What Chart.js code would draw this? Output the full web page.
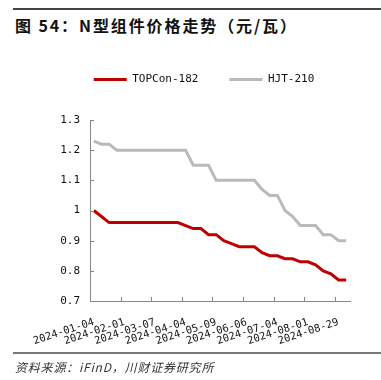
<!DOCTYPE html>
<html>
<head>
<meta charset="utf-8">
<script src="https://cdn.jsdelivr.net/npm/chart.js@4"></script>
<style>
  body { margin: 0; background: #fff; }
  #wrap { position: relative; width: 381px; height: 380px; overflow: hidden; }
  #chart { position: absolute; left: 0; top: 0; }
  .rule { position: absolute; left: 13px; right: 0; height: 2px; }
  #title { position: absolute; left: 15px; top: 13px; font: bold 16px "Noto Sans CJK SC", sans-serif; letter-spacing: 1.9px; color: #111; white-space: nowrap; }
  #source { position: absolute; left: 15px; top: 358px; font: italic 12px "Noto Sans CJK SC", sans-serif; letter-spacing: 0.8px; color: #333; white-space: nowrap; }
</style>
</head>
<body>
<div id="wrap">
  <div class="rule" style="top:8px;background:#444"></div>
  <div id="title">图 54：N型组件价格走势（元/瓦）</div>
  <canvas id="chart" width="381" height="380"></canvas>
  <div class="rule" style="top:352px;background:#777"></div>
  <div id="source">资料来源：iFinD，川财证券研究所</div>
</div>
<script>
// weekly dates (CNY and May Day weeks skipped)
const dates = [
  '2024-01-04', '2024-01-11', '2024-01-18', '2024-01-25', '2024-02-01', '2024-02-08', '2024-02-22', '2024-02-29',
  '2024-03-07', '2024-03-14', '2024-03-21', '2024-03-28', '2024-04-04', '2024-04-11', '2024-04-18', '2024-04-25',
  '2024-05-09', '2024-05-16', '2024-05-23', '2024-05-30', '2024-06-06', '2024-06-13', '2024-06-20', '2024-06-27',
  '2024-07-04', '2024-07-11', '2024-07-18', '2024-07-25', '2024-08-01', '2024-08-08', '2024-08-15', '2024-08-22',
  '2024-08-29', '2024-09-05'
];
const topcon = [
  1.00, 0.98, 0.96, 0.96, 0.96, 0.96, 0.96, 0.96,
  0.96, 0.96, 0.96, 0.96, 0.95, 0.94, 0.94, 0.92,
  0.92, 0.90, 0.89, 0.88, 0.88, 0.88, 0.86, 0.85,
  0.85, 0.84, 0.84, 0.83, 0.83, 0.82, 0.80, 0.79,
  0.77, 0.77
];
const hjt = [
  1.23, 1.22, 1.22, 1.20, 1.20, 1.20, 1.20, 1.20,
  1.20, 1.20, 1.20, 1.20, 1.20, 1.15, 1.15, 1.15,
  1.10, 1.10, 1.10, 1.10, 1.10, 1.10, 1.07, 1.05,
  1.05, 1.00, 0.98, 0.95, 0.95, 0.95, 0.92, 0.92,
  0.90, 0.90
];
const yTicks = [0.7, 0.8, 0.9, 1.0, 1.1, 1.2, 1.3];

const axisColor = '#888';
const monoFont = '"DejaVu Sans Mono", monospace';

// small tick marks pointing into the plot, like the original
const innerTicks = {
  id: 'innerTicks',
  beforeInit(chart) {
    // leave extra room under the legend
    const legend = chart.legend;
    const fit = legend.fit;
    legend.fit = function () { fit.call(this); this.height += 25; };
  },
  afterDraw(chart) {
    const { ctx, chartArea, scales } = chart;
    const x = scales.x, y = scales.y;
    ctx.save();
    ctx.strokeStyle = axisColor;
    ctx.lineWidth = 1;
    ctx.beginPath();
    for (let i = 4; i < dates.length; i += 4) {
      const px = Math.round((x.getPixelForValue(i - 1) + x.getPixelForValue(i)) / 2) + 0.5;
      ctx.moveTo(px, chartArea.bottom);
      ctx.lineTo(px, chartArea.bottom - 4);
    }
    yTicks.slice(1).forEach(v => {
      const py = Math.round(y.getPixelForValue(v)) + 0.5;
      ctx.moveTo(chartArea.left, py);
      ctx.lineTo(chartArea.left + 4, py);
    });
    ctx.stroke();
    ctx.restore();
  }
};

new Chart(document.getElementById('chart'), {
  type: 'line',
  data: {
    labels: dates,
    datasets: [
      { label: 'TOPCon-182', data: topcon, borderColor: '#C00000', backgroundColor: '#C00000', borderWidth: 3, pointRadius: 0, tension: 0 },
      { label: 'HJT-210', data: hjt, borderColor: '#BABABA', backgroundColor: '#BABABA', borderWidth: 3, pointRadius: 0, tension: 0 }
    ]
  },
  options: {
    responsive: false,
    animation: false,
    layout: { padding: { top: 43, left: 58, right: 31, bottom: 0 } },
    plugins: {
      legend: {
        labels: {
          usePointStyle: true,
          pointStyle: 'line',
          pointStyleWidth: 33,
          padding: 31,
          color: '#111',
          font: { family: monoFont, size: 11 }
        }
      },
      tooltip: { enabled: false }
    },
    scales: {
      x: {
        offset: true,
        grid: { display: false, drawTicks: false, offset: true },
        border: { display: true, color: axisColor, width: 1 },
        afterFit: (s) => { s.height = 79; },
        ticks: {
          autoSkip: false,
          minRotation: 18,
          maxRotation: 18,
          padding: 15,
          color: '#111',
          font: { family: monoFont, size: 10.5 },
          callback: (v, i) => (i % 4 === 0 ? dates[i] : '')
        }
      },
      y: {
        min: 0.7,
        max: 1.3,
        grid: { display: false, drawTicks: false },
        border: { display: true, color: axisColor, width: 1 },
        afterFit: (s) => { s.width = 32; },
        afterBuildTicks: (s) => { s.ticks = yTicks.map(v => ({ value: v })); },
        ticks: {
          padding: 10,
          color: '#111',
          font: { family: monoFont, size: 11 },
          callback: (v) => String(Number(v.toFixed(1)))
        }
      }
    }
  },
  plugins: [innerTicks]
});
</script>
</body>
</html>
